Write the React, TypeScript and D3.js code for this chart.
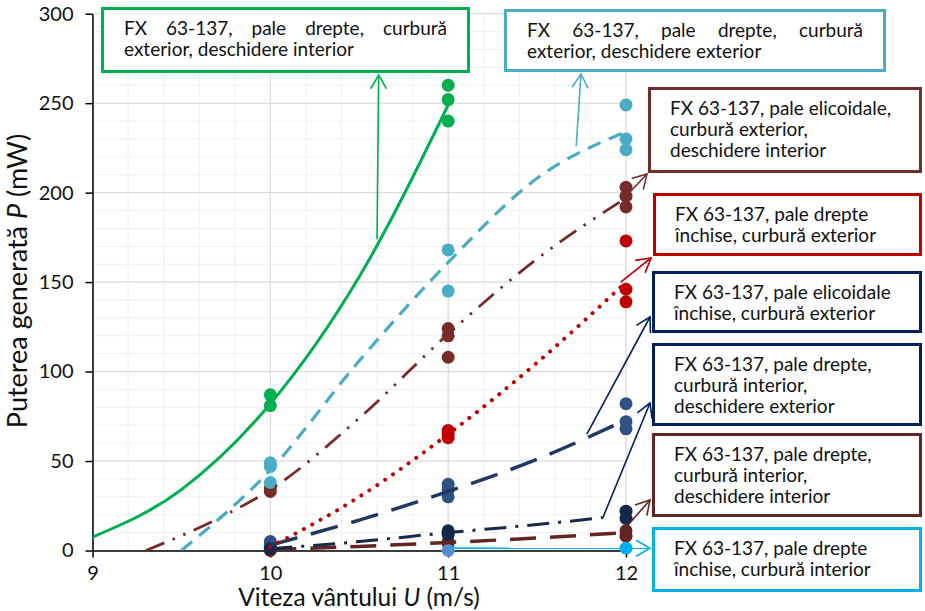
import React, { useEffect, useRef } from 'react';
import * as d3 from 'd3';

// axis ticks
const xTicks = [9, 10, 11, 12];
const yTicks = [0, 50, 100, 150, 200, 250, 300];

// measured points [U (m/s), P (mW)]
const greenPts = [[10, 87], [10, 81], [11, 260], [11, 252], [11, 240]];
const bluePts = [[10, 49], [10, 47], [10, 38], [11, 168], [11, 145], [12, 249], [12, 230], [12, 224]];
const maroonPts = [[10, 35], [10, 33], [11, 124], [11, 120], [11, 108], [12, 203], [12, 198], [12, 192]];
const redPts = [[10, 2], [10, 1], [11, 67], [11, 65], [11, 63], [12, 173], [12, 146], [12, 139]];
const navyPts = [[10, 5], [10, 3], [11, 37], [11, 34], [11, 30], [12, 82], [12, 72], [12, 68]];
const darkNavyPts = [[10, 1], [11, 11], [11, 9], [12, 22], [12, 18]];
const brownPts = [[10, 0], [11, 5], [11, 4], [12, 11], [12, 8]];
const steelPts = [[11, 0]];
const cyanPts = [[12, 1.3]];

// trend lines
const greenTrend = [[9, 7.5], [9.5, 34], [10, 82], [10.5, 153], [11, 249]];
const blueTrend = [[9.5, 0], [10, 45], [10.5, 106], [11, 161], [11.5, 208], [12, 234]];
const maroonTrend = [[9.3, 0], [9.75, 20], [10, 34], [10.5, 74], [11, 121], [11.5, 163], [12, 197]];
const redTrend = [[10, 2], [10.5, 30], [11, 65], [11.5, 105], [12, 150]];
const navyTrend = [[10, 3], [10.5, 17], [11, 33], [11.5, 51], [12, 73]];
const darkNavyTrend = [[10, 1], [10.5, 5], [11, 10], [11.5, 14.5], [11.87, 18.4]];
const brownTrend = [[10, 0.5], [10.5, 2.3], [11, 4.5], [11.5, 7], [12, 10]];

// callout labels
const greenLabel = ['FX 63-137, pale drepte, curbură', 'exterior, deschidere interior'];
const blueLabel = ['FX 63-137, pale drepte, curbură', 'exterior, deschidere exterior'];
const maroonLabel = ['FX 63-137, pale elicoidale,', 'curbură exterior,', 'deschidere interior'];
const redLabel = ['FX 63-137, pale drepte', 'închise, curbură exterior'];
const navyLabel = ['FX 63-137, pale elicoidale', 'închise, curbură exterior'];
const darkNavyLabel = ['FX 63-137, pale drepte,', 'curbură interior,', 'deschidere exterior'];
const brownLabel = ['FX 63-137, pale drepte,', 'curbură interior,', 'deschidere interior'];
const cyanLabel = ['FX 63-137, pale drepte', 'închise, curbură interior'];

// where each callout arrow leaves its curve [U, P]
const greenAnchor = [10.6, 174];
const blueAnchor = [11.72, 226];
const maroonAnchor = [12, 198];
const redAnchor = [11.97, 150];
const navyAnchor = [11.78, 65];
const darkNavyAnchor = [11.87, 18.4];
const brownAnchor = [12, 13];
const cyanAnchor = [11, 1.3];

const FONT = 'Lato, "Open Sans", sans-serif';

function App() {
    const ref = useRef(null);

    useEffect(() => {
        document.body.style.margin = '0';
        const root = d3.select(ref.current);
        root.selectAll('*').remove();

        const svg = root.append('svg')
            .attr('width', 925)
            .attr('height', 611)
            .style('display', 'block')
            .style('font-family', FONT);

        const x = d3.scaleLinear().domain([9, 12]).range([92.5, 626]);
        const y = d3.scaleLinear().domain([0, 300]).range([550.5, 13.7]);

        // grid
        const grid = svg.append('g');
        grid.selectAll('.mx').data(d3.range(9, 12.001, 0.2)).enter().append('line')
            .attr('x1', d => x(d)).attr('x2', d => x(d)).attr('y1', y(0)).attr('y2', y(300))
            .attr('stroke', '#efefef');
        grid.selectAll('.my').data(d3.range(0, 301, 10)).enter().append('line')
            .attr('x1', x(9)).attr('x2', x(12)).attr('y1', d => y(d)).attr('y2', d => y(d))
            .attr('stroke', '#efefef');
        grid.selectAll('.gx').data(xTicks).enter().append('line')
            .attr('x1', d => x(d)).attr('x2', d => x(d)).attr('y1', y(0)).attr('y2', y(300))
            .attr('stroke', '#d9d9d9');
        grid.selectAll('.gy').data(yTicks).enter().append('line')
            .attr('x1', x(9)).attr('x2', x(12)).attr('y1', d => y(d)).attr('y2', d => y(d))
            .attr('stroke', '#d9d9d9');

        // axes
        const ax = svg.append('g').attr('transform', `translate(0,${y(0)})`)
            .call(d3.axisBottom(x).tickValues(xTicks).tickSize(7).tickSizeOuter(0).tickPadding(8.5).tickFormat(d3.format('d')));
        const ay = svg.append('g').attr('transform', `translate(${x(9)},0)`)
            .call(d3.axisLeft(y).tickValues(yTicks).tickSize(7).tickSizeOuter(0).tickPadding(12));
        [ax, ay].forEach(a => {
            a.selectAll('path,line').attr('stroke', '#000').attr('stroke-width', 1.5);
            a.selectAll('text').attr('font-family', FONT).attr('font-size', 20).attr('fill', '#111');
        });

        const xt = svg.append('text').attr('x', 359).attr('y', 606).attr('text-anchor', 'middle')
            .attr('font-size', 24.5).attr('fill', '#111');
        xt.append('tspan').text('Viteza vântului ');
        xt.append('tspan').attr('font-style', 'italic').text('U');
        xt.append('tspan').text(' (m/s)');

        const yt = svg.append('text').attr('transform', 'translate(27,281) rotate(-90)')
            .attr('text-anchor', 'middle').attr('font-size', 27).attr('fill', '#111');
        yt.append('tspan').text('Puterea generată ');
        yt.append('tspan').attr('font-style', 'italic').text('P');
        yt.append('tspan').text(' (mW)');

        // markers
        const markerSets = [
            { pts: brownPts, color: '#632523' },
            { pts: steelPts, color: '#5b8bd0' },
            { pts: cyanPts, color: '#00b0f0' },
            { pts: redPts, color: '#c00000' },
            { pts: navyPts, color: '#2f5283' },
            { pts: darkNavyPts, color: '#14284b' },
            { pts: maroonPts, color: '#772c2a' },
            { pts: bluePts, color: '#4bacc6' },
            { pts: greenPts, color: '#00b050' },
        ];
        markerSets.forEach(s => {
            svg.append('g').selectAll('circle').data(s.pts).enter().append('circle')
                .attr('cx', d => x(d[0])).attr('cy', d => y(d[1])).attr('r', 6.5)
                .attr('fill', s.color);
        });

        // trend lines
        svg.append('clipPath').attr('id', 'plot').append('rect')
            .attr('x', x(9)).attr('y', y(300)).attr('width', x(12) - x(9) + 2).attr('height', y(0) - y(300));
        const line = d3.line().x(d => x(d[0])).y(d => y(d[1])).curve(d3.curveMonotoneX);
        const trends = [
            { pts: brownTrend, color: '#632523', w: 3.5, dash: '26,14' },
            { pts: darkNavyTrend, color: '#14284b', w: 3, dash: '22,9,3,9' },
            { pts: navyTrend, color: '#1f3864', w: 3.5, dash: '28,14' },
            { pts: redTrend, color: '#c00000', w: 4, dash: '0.01,9.5', cap: 'round' },
            { pts: maroonTrend, color: '#772c2a', w: 2.8, dash: '20,9,2.5,9,2.5,9' },
            { pts: blueTrend, color: '#4bacc6', w: 3.2, dash: '14,9' },
            { pts: greenTrend, color: '#00b050', w: 3, dash: null },
        ];
        const tg = svg.append('g').attr('clip-path', 'url(#plot)');
        trends.forEach(t => {
            tg.append('path').attr('d', line(t.pts)).attr('fill', 'none')
                .attr('stroke', t.color).attr('stroke-width', t.w)
                .attr('stroke-dasharray', t.dash)
                .attr('stroke-linecap', t.cap || 'butt');
        });

        // callouts: box [left, top, right, bottom], arrow tip in px
        const callouts = [
            { lines: greenLabel, color: '#00b050', box: [101, 7, 470, 73], anchor: greenAnchor, tip: [378.7, 75], justify: [124, 447] },
            { lines: blueLabel, color: '#4bacc6', box: [504, 9, 886, 72], anchor: blueAnchor, tip: [581, 74], justify: [527, 863] },
            { lines: maroonLabel, color: '#702f2d', box: [648, 87, 922, 173], anchor: maroonAnchor, tip: [647, 174] },
            { lines: redLabel, color: '#c00000', box: [653, 193, 922, 256], anchor: redAnchor, tip: [651, 258] },
            { lines: navyLabel, color: '#002060', box: [652, 271, 922, 333], anchor: navyAnchor, tip: [650, 317] },
            { lines: darkNavyLabel, color: '#002060', box: [652, 343, 922, 426], anchor: darkNavyAnchor, tip: [650, 403] },
            { lines: brownLabel, color: '#632523', box: [652, 433, 922, 517], anchor: brownAnchor, tip: [650, 500] },
            { lines: cyanLabel, color: '#00b0f0', box: [652, 527, 922, 592], anchor: cyanAnchor, tip: [650, 548.3] },
        ];

        callouts.forEach(c => {
            const g = svg.append('g');
            const sx = x(c.anchor[0]), sy = y(c.anchor[1]);
            const [tx, ty] = c.tip;
            g.append('line').attr('x1', sx).attr('y1', sy).attr('x2', tx).attr('y2', ty)
                .attr('stroke', c.color).attr('stroke-width', 1.6);
            const ang = Math.atan2(ty - sy, tx - sx);
            const len = 16, spread = Math.PI / 6;
            const head = [
                [tx - len * Math.cos(ang - spread), ty - len * Math.sin(ang - spread)],
                [tx, ty],
                [tx - len * Math.cos(ang + spread), ty - len * Math.sin(ang + spread)],
            ];
            g.append('path').attr('d', d3.line()(head)).attr('fill', 'none')
                .attr('stroke', c.color).attr('stroke-width', 1.6);

            const [l, t, r, b] = c.box;
            g.append('rect').attr('x', l + 1.5).attr('y', t + 1.5)
                .attr('width', r - l - 3).attr('height', b - t - 3)
                .attr('fill', '#fff').attr('stroke', c.color).attr('stroke-width', 3);

            // one text element per box, one tspan per line
            const left = c.justify ? c.justify[0] : l + 22;
            const txt = g.append('text').attr('font-size', 19).attr('fill', '#111');
            c.lines.forEach((ln, i) => {
                const yb = t + 28 + i * 21;
                if (c.justify && i === 0) {
                    const words = ln.split(' ');
                    const spans = words.map(w => txt.append('tspan').attr('y', yb).text(w));
                    const widths = spans.map(s => (s.node() as SVGTSpanElement).getComputedTextLength());
                    const gap = (c.justify[1] - c.justify[0] - d3.sum(widths)) / (words.length - 1);
                    let cx = c.justify[0];
                    spans.forEach((s, k) => { s.attr('x', cx); cx += widths[k] + gap; });
                } else {
                    txt.append('tspan').attr('x', left).attr('y', yb).text(ln);
                }
            });
        });

        return () => { root.selectAll('*').remove(); };
    }, []);

    return <div ref={ref} style={{ width: '925px', height: '611px' }}></div>;
}

export default App;
